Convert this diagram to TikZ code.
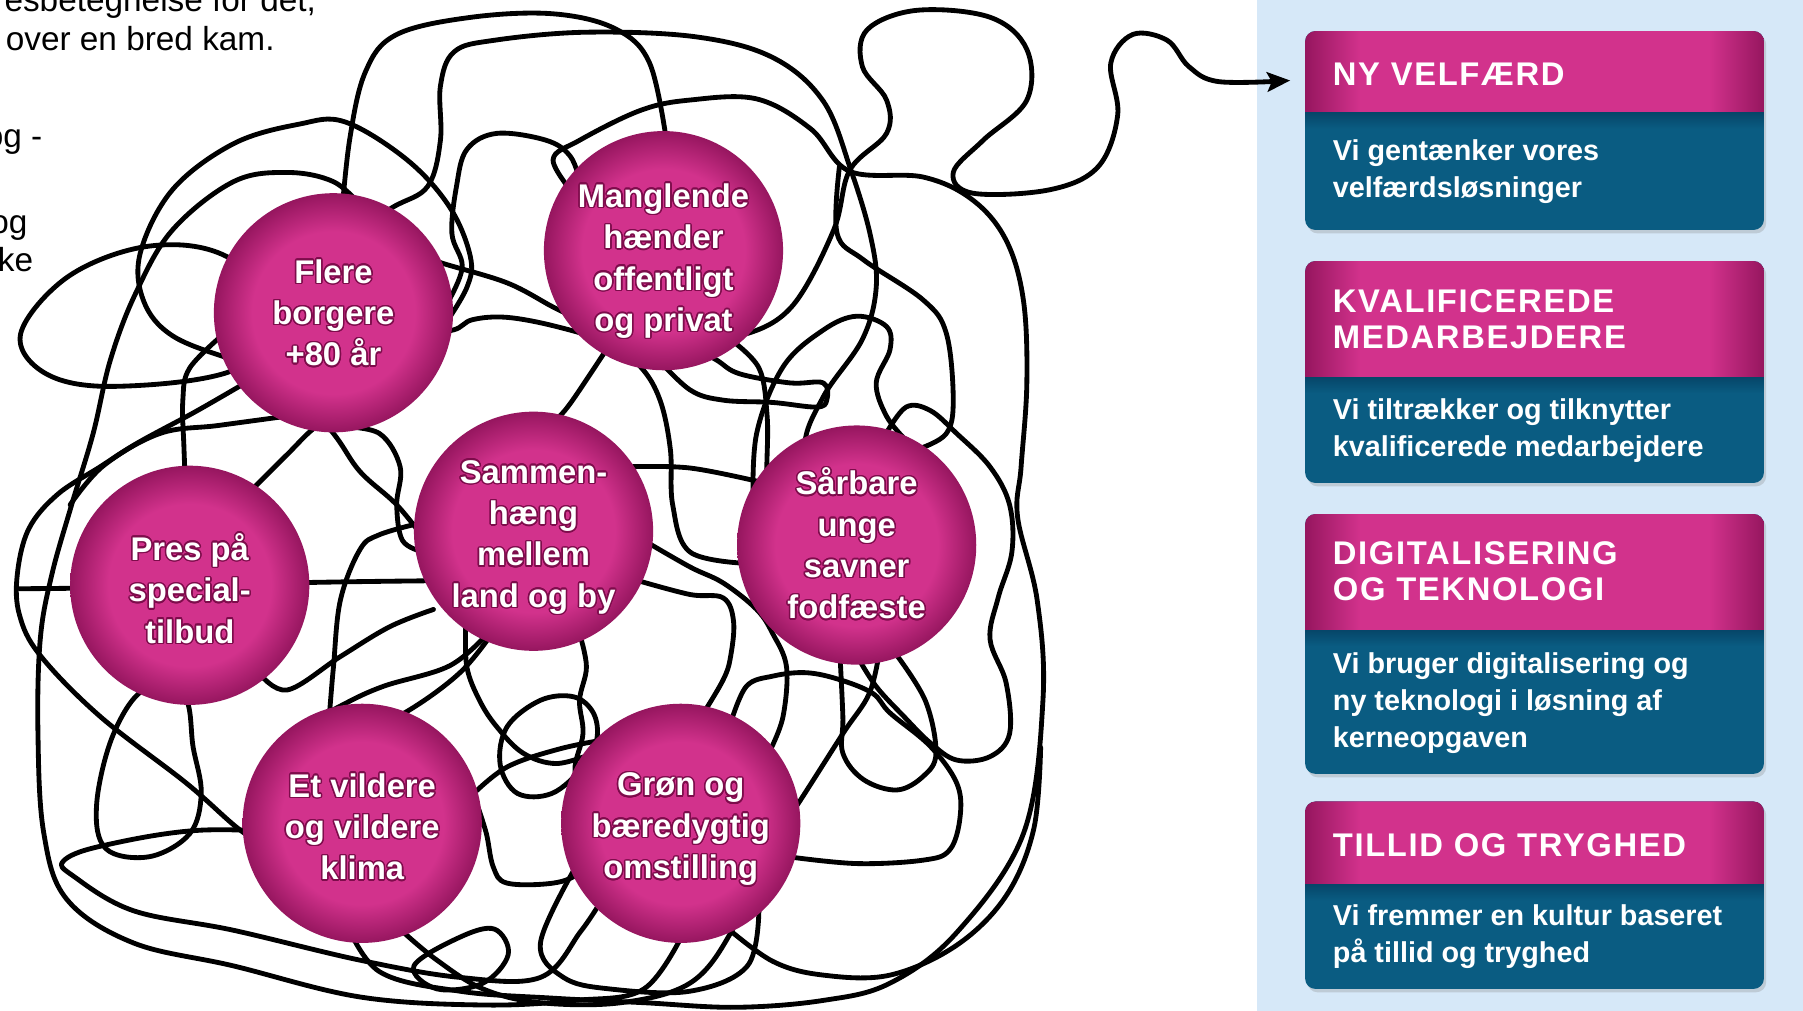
\documentclass[tikz,border=0pt]{standalone}
\usepackage{fontspec}
\setmainfont{Liberation Sans}
\newfontfamily\spaced{Liberation Sans}[LetterSpace=5]
\usepackage{contour}
\contourlength{1.3pt}
\usetikzlibrary{arrows.meta,shadows}
\definecolor{pinkc}{RGB}{210,50,140}
\definecolor{pinkd}{RGB}{150,22,95}
\definecolor{tealc}{RGB}{10,92,130}
\definecolor{tealdk}{RGB}{6,70,105}
\definecolor{panelc}{RGB}{214,232,248}
\definecolor{glowc}{RGB}{125,12,75}
\pgfdeclareradialshading{ball}{\pgfpoint{0bp}{0bp}}{color(0bp)=(pinkc); color(17bp)=(pinkc); color(25bp)=(pinkd); color(50bp)=(pinkd)}
\pgfdeclarehorizontalshading{hdr}{100bp}{color(0bp)=(pinkd); color(25bp)=(pinkd); color(31bp)=(pinkc); color(69bp)=(pinkc); color(75bp)=(pinkd); color(100bp)=(pinkd)}
\newcommand\gw[1]{\contour{glowc}{#1}}
\newcommand\ctext[2]{\raisebox{#1}[\height][\depth]{\begin{tabular}{@{}c@{}}#2\end{tabular}}}
\tikzset{
  wire/.style={line width=4.2pt, black, line join=round, line cap=round},
  ball/.style={circle, minimum size=208pt, inner sep=0pt, shading=ball, text=white,
     font=\bfseries\fontsize{28.5}{36}\selectfont, align=center},
  box/.style={rectangle, rounded corners=9pt, fill=tealc, minimum width=399pt, inner sep=0pt,
     drop shadow={opacity=0.28, shadow xshift=2pt, shadow yshift=-3pt}},
  ttl/.style={anchor=base west, inner sep=0pt, text=white, align=left,
     font=\spaced\bfseries\fontsize{28.5}{31}\selectfont},
  body/.style={anchor=base west, inner sep=0pt, text=white, align=left,
     font=\bfseries\fontsize{25}{32}\selectfont},
  side/.style={anchor=base east, inner sep=0pt, font=\fontsize{29}{35}\selectfont}
}
\begin{document}
\begin{tikzpicture}[x=1pt,y=-1pt]
\useasboundingbox (0,0) rectangle (1568,879);
\clip (0,0) rectangle (1568,879);
\fill[white] (0,0) rectangle (1568,879);
\fill[panelc] (1093,0) rectangle (1568,879);

% side text
\node[side] (s1) at (275,10) {esbetegnelse for det,};
\node[side] (s2) at (239,43.5) {over en bred kam.};
\node[side] (s3) at (37,128) {og -};
\node[side] (s4) at (24,203) {og};
\node[side] (s5) at (29,236.5) {ke};

% tangle
\draw[wire] plot[smooth,tension=0.6] coordinates {(296,200) (304,122) (318,62) (345,30) (410,15) (481,12) (535,25) (565,55) (580,125)};
\draw[wire] plot[smooth,tension=0.6] coordinates {(300,205) (342,180) (372,162) (383,122) (383,75) (395,45) (430,35) (510,28) (605,32) (672,50) (716,88) (740,148) (757,205) (762,250) (750,295) (716,345) (700,390) (720,440)};
\coordinate (tip) at (1122,70);
\draw[wire,-{Stealth[length=20pt,width=17pt,inset=4pt]}] plot[smooth,tension=0.6] coordinates {(610,290) (650,290) (690,265) (725,200) (739,148) (771,116) (771,87) (750,58) (754,26) (797,9) (861,15) (893,43) (893,87) (855,122) (829,150) (846,168) (913,165) (955,145) (972,100) (966,55) (985,30) (1015,35) (1034,58) (1060,71) (1122,70)};
\draw[wire] plot[smooth,tension=0.6] coordinates {(500,170) (481,139) (504,122) (557,96) (600,87) (658,86) (705,112) (739,149) (803,154) (846,174) (875,209) (890,261) (893,333) (888,406) (885,450) (902,522) (907,609) (890,725) (832,811) (774,855) (716,870) (640,876) (560,872) (480,868) (400,862) (330,845) (300,800)};
\draw[wire] plot[smooth cycle,tension=0.6] coordinates {(250,275) (197,223) (130,214) (60,240) (18,290) (40,325) (100,336) (203,322)};
\draw[wire] plot[smooth,tension=0.6] coordinates {(385,285) (406,250) (409,223) (391,180) (354,139) (300,106) (260,108) (203,125) (150,165) (122,220) (125,262) (150,292) (203,313) (260,330)};
\draw[wire] plot[smooth,tension=0.6] coordinates {(315,180) (290,158) (250,150) (203,158) (150,200) (118,255) (96,313) (81,377) (62,440) (45,500) (35,556) (33,637) (38,724) (58,782) (116,820) (203,840) (313,867) (420,874) (500,870) (560,860) (595,810)};
\draw[wire] plot[smooth,tension=0.6] coordinates {(215,332) (170,358) (120,385) (87,406) (50,430) (25,460) (15,500) (17,535) (35,570) (87,623) (162,681) (209,722) (240,740)};
\draw[wire] plot[smooth,tension=0.6] coordinates {(17,512) (100,511) (200,508) (300,506) (380,505)};
\draw[wire] plot[smooth,tension=0.6] coordinates {(280,725) (174,722) (87,736) (55,749) (64,762) (116,792) (203,809) (313,835) (400,850) (470,850) (505,810) (525,780)};
\draw[wire] plot[smooth cycle,tension=0.6] coordinates {(125,600) (98,640) (84,700) (92,738) (130,745) (165,725) (175,690) (168,650) (160,605)};
\draw[wire] plot[smooth,tension=0.6] coordinates {(390,262) (402,232) (393,203) (397,162) (406,130) (432,116) (475,122) (496,136) (505,160)};
\draw[wire] plot[smooth,tension=0.6] coordinates {(360,220) (385,229) (441,246) (481,267) (504,278)};
\draw[wire] plot[smooth,tension=0.6] coordinates {(360,290) (394,287) (411,278) (441,276) (484,284) (528,298) (557,319) (574,348) (583,391) (585,439) (600,480) (650,490)};
\draw[wire] plot[smooth,tension=0.6] coordinates {(530,300) (498,348) (484,365) (470,380)};
\draw[wire] plot[smooth,tension=0.6] coordinates {(545,406) (600,407) (665,420)};
\draw[wire] plot[smooth,tension=0.6] coordinates {(570,310) (600,339) (629,348) (672,350) (710,354) (719,348) (716,333) (687,333) (643,325) (623,313) (600,300)};
\draw[wire] plot[smooth,tension=0.6] coordinates {(655,440) (658,377) (681,319) (716,287) (745,275) (771,284) (774,304) (762,333) (771,362) (788,383)};
\draw[wire] plot[smooth,tension=0.6] coordinates {(770,378) (788,354) (809,357) (832,377) (861,406) (878,439) (880,480) (868,520) (861,556) (875,594) (878,638) (861,658) (832,661) (809,646) (786,623) (762,597) (745,570)};
\draw[wire] plot[smooth,tension=0.6] coordinates {(730,145) (728,203) (751,226) (803,261) (823,290) (829,348) (823,377) (800,390)};
\draw[wire] plot[smooth,tension=0.6] coordinates {(560,470) (600,493) (629,507) (658,530) (672,551) (684,580) (681,623) (670,652)};
\draw[wire] plot[smooth,tension=0.6] coordinates {(555,505) (600,517) (629,520) (638,541) (635,573) (629,591) (615,615)};
\draw[wire] plot[smooth,tension=0.6] coordinates {(635,630) (649,597) (672,588) (701,585) (730,591) (759,603) (774,620) (809,649) (832,681) (835,710) (826,739) (803,748) (745,751) (685,745)};
\draw[wire] plot[smooth,tension=0.6] coordinates {(730,560) (733,623) (733,655) (751,678) (780,687) (803,675) (814,655) (805,610) (780,570)};
\draw[wire] plot[smooth,tension=0.6] coordinates {(765,565) (756,603) (733,638) (696,696) (658,754) (635,812) (600,855) (540,872) (470,872) (420,860) (380,835) (350,810)};
\draw[wire] plot[smooth,tension=0.6] coordinates {(630,805) (672,836) (716,848) (774,848) (832,822) (875,779) (899,721) (905,650)};
\draw[wire] plot[smooth,tension=0.6] coordinates {(405,543) (406,580) (417,609) (432,632) (455,655) (484,664) (516,655)};
\draw[wire] plot[smooth cycle,tension=0.6] coordinates {(441,632) (470,609) (499,606) (516,620) (519,643) (507,667) (480,690) (450,690) (435,665)};
\draw[wire] plot[smooth,tension=0.6] coordinates {(412,690) (441,667) (484,652) (528,643) (571,638) (610,640)};
\draw[wire] plot[smooth,tension=0.6] coordinates {(415,700) (423,725) (429,754) (441,768) (481,768) (504,759) (520,740)};
\draw[wire] plot[smooth,tension=0.6] coordinates {(504,551) (510,580) (504,609) (507,638) (500,670) (510,700)};
\draw[wire] plot[smooth,tension=0.6] coordinates {(365,455) (330,465) (313,478) (296,522) (290,580) (287,615) (285,640)};
\draw[wire] plot[smooth,tension=0.6] coordinates {(230,690) (262,660) (313,640) (360,615) (400,585) (425,555)};
\draw[wire] plot[smooth,tension=0.6] coordinates {(225,585) (250,600) (296,571) (339,545) (377,530)};
\draw[wire] plot[smooth,tension=0.6] coordinates {(250,640) (296,614) (333,597) (391,579) (425,550)};
\draw[wire] plot[smooth cycle,tension=0.6] coordinates {(400,815) (430,808) (442,830) (420,855) (380,860) (360,840)};
\draw[wire] plot[smooth,tension=0.6] coordinates {(500,755) (470,820) (490,850) (530,860) (600,862) (650,840) (660,790)};
\draw[wire] plot[smooth,tension=0.6] coordinates {(249,362) (190,370) (139,377) (90,405) (61,439)};
\draw[wire] plot[smooth,tension=0.6] coordinates {(195,290) (165,320) (159,348) (160,390) (162,439)};
\draw[wire] plot[smooth,tension=0.6] coordinates {(220,425) (250,395) (275,371) (300,360)};
\draw[wire] plot[smooth,tension=0.6] coordinates {(250,330) (290,377) (313,410) (345,439) (370,470)};
\draw[wire] plot[smooth,tension=0.6] coordinates {(296,371) (330,377) (348,406) (345,439) (350,470) (368,480)};
\draw[wire] plot[smooth,tension=0.6] coordinates {(635,295) (660,320) (667,360) (667,400) (665,440)};

% circles
\node[ball] (flere) at (290,272) {\ctext{-3pt}{\gw{Flere}\\\gw{borgere}\\\gw{+80 år}}};
\node[ball] (mangl) at (577,218) {\ctext{-9pt}{\gw{Manglende}\\\gw{hænder}\\\gw{offentligt}\\\gw{og privat}}};
\node[ball] (samm) at (464,462) {\ctext{-5pt}{\gw{Sammen-}\\\gw{hæng}\\\gw{mellem}\\\gw{land og by}}};
\node[ball] (pres) at (165,509) {\ctext{-7pt}{\gw{Pres på}\\\gw{special-}\\\gw{tilbud}}};
\node[ball] (sarb) at (745,474) {\ctext{-3pt}{\gw{Sårbare}\\\gw{unge}\\\gw{savner}\\\gw{fodfæste}}};
\node[ball] (klima) at (315,716) {\ctext{-6pt}{\gw{Et vildere}\\\gw{og vildere}\\\gw{klima}}};
\node[ball] (gron) at (592,716) {\ctext{-5pt}{\gw{Grøn og}\\\gw{bæredygtig}\\\gw{omstilling}}};

% boxes
\node[box, minimum height=173pt] (b1) at (1334.5,113.5) {};
\node[box, minimum height=193pt] (b2) at (1334.5,323.5) {};
\node[box, minimum height=226pt] (b3) at (1334.5,560) {};
\node[box, minimum height=163pt] (b4) at (1334.5,778.5) {};
\begin{scope}
\clip[rounded corners=9pt] (1135,27) rectangle (1534,200);
\shade[shading=hdr] (1135,27) rectangle (1534,98);
\shade[top color=tealdk, bottom color=tealc] (1135,98) rectangle (1534,112);
\end{scope}
\begin{scope}
\clip[rounded corners=9pt] (1135,227) rectangle (1534,420);
\shade[shading=hdr] (1135,227) rectangle (1534,328);
\shade[top color=tealdk, bottom color=tealc] (1135,328) rectangle (1534,342);
\end{scope}
\begin{scope}
\clip[rounded corners=9pt] (1135,447) rectangle (1534,673);
\shade[shading=hdr] (1135,447) rectangle (1534,548);
\shade[top color=tealdk, bottom color=tealc] (1135,548) rectangle (1534,562);
\end{scope}
\begin{scope}
\clip[rounded corners=9pt] (1135,697) rectangle (1534,860);
\shade[shading=hdr] (1135,697) rectangle (1534,769);
\shade[top color=tealdk, bottom color=tealc] (1135,769) rectangle (1534,783);
\end{scope}

\node[ttl] (t1) at (1159,74) {NY VELFÆRD};
\node[body] (d1) at (1159,172) {Vi gentænker vores\\velfærdsløsninger};
\node[ttl] (t2) at (1159,303) {KVALIFICEREDE\\MEDARBEJDERE};
\node[body] (d2) at (1159,397) {Vi tiltrækker og tilknytter\\kvalificerede medarbejdere};
\node[ttl] (t3) at (1159,522) {DIGITALISERING\\OG TEKNOLOGI};
\node[body] (d3) at (1159,650) {Vi bruger digitalisering og\\ny teknologi i løsning af\\kerneopgaven};
\node[ttl] (t4) at (1159,745) {TILLID OG TRYGHED};
\node[body] (d4) at (1159,837) {Vi fremmer en kultur baseret\\på tillid og tryghed};
\end{tikzpicture}
\end{document}
